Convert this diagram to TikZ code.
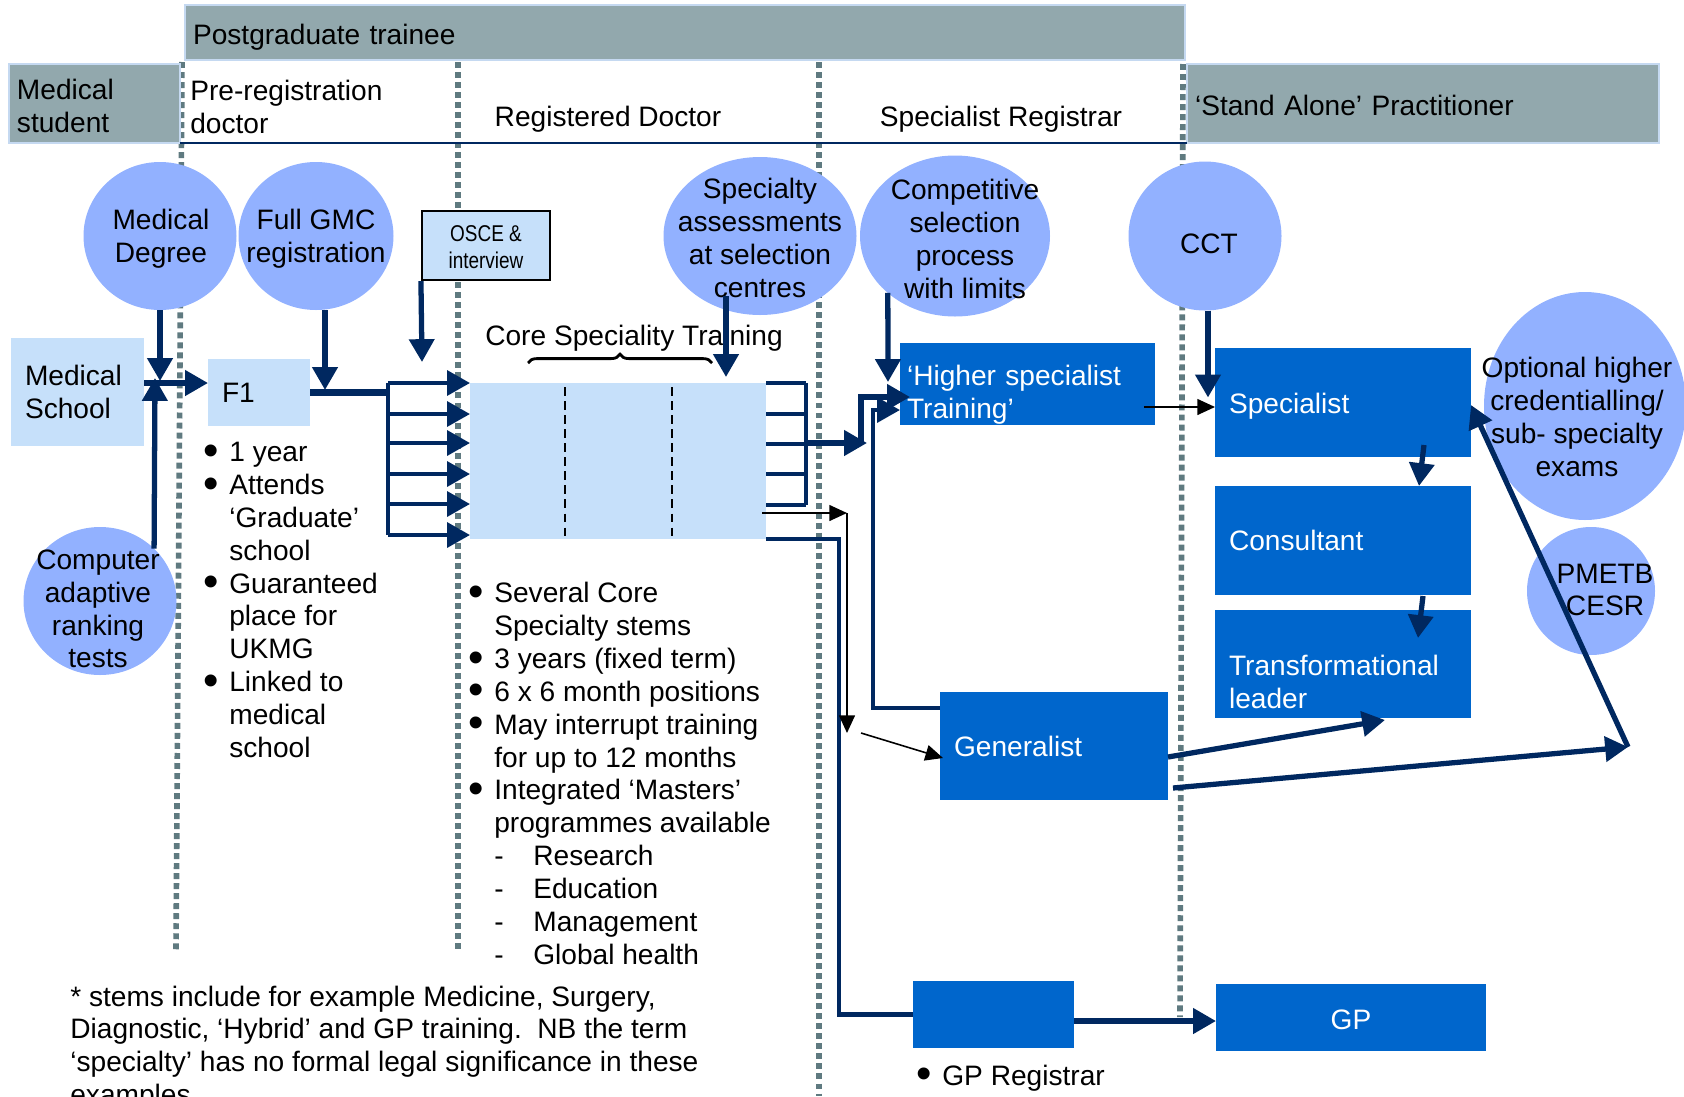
\documentclass[tikz,border=0pt]{standalone}
\usepackage{
	fontspec,			% Fonts
	xcolor				% Colours
}
\usetikzlibrary{arrows.meta,shapes.geometric,decorations.pathreplacing}
\setmainfont{Liberation Sans}
\newfontfamily\narrowfont[FakeStretch=0.83]{Liberation Sans}
\definecolor{barfill}{RGB}{146,168,173}
\definecolor{barline}{RGB}{197,217,241}
\definecolor{sepcol}{RGB}{95,122,128}
\definecolor{bubblecol}{RGB}{146,177,255}
\definecolor{palecol}{RGB}{198,224,250}
\definecolor{boxcol}{RGB}{0,102,204}
\definecolor{arrowblue}{RGB}{0,40,96}
\newcommand{\upx}[1]{\fpeval{(#1)*0.02}cm}
\newcommand{\padtop}[1]{\rule{0pt}{#1}}
\newcommand{\itm}{\makebox[\upx{26}][l]{\raisebox{-2pt}{\fontsize{25}{18}\selectfont\textbullet}}}
\newcommand{\itmind}{\hspace*{\upx{26}}}
\newcommand{\subitm}{\hspace*{\upx{26}}\makebox[\upx{39}][l]{-}}
\tikzset{
	band/.style={draw=barline,line width=1.2pt,fill=barfill,inner ysep=0pt,inner xsep=0.16cm,align=left,anchor=north west,outer sep=0pt},
	bubble/.style={ellipse,fill=bubblecol,inner sep=0pt,outer sep=0pt},
	wh/.style 2 args={minimum width=#1*0.02cm,minimum height=#2*0.02cm},
	palebox/.style={fill=palecol,inner ysep=0pt,inner xsep=0.28cm,align=left,outer sep=0pt},
	bluebox/.style={fill=boxcol,text=white,inner ysep=0pt,inner xsep=0.28cm,align=left,outer sep=0pt},
	sepline/.style={draw=sepcol,line width=3.2pt,dash pattern=on 3.4pt off 2.3pt},
	link/.style={draw=arrowblue,line width=3pt,-{Triangle[length=13pt,width=14pt]}},
	rail/.style={draw=arrowblue,line width=2.4pt},
	fanarrow/.style={rail,-{Triangle[length=13pt,width=14pt]}},
	thinarrow/.style={draw=black,line width=0.9pt,-{Triangle[length=10pt,width=9pt]}}
}
\begin{document}
\begin{tikzpicture}[x=0.02cm,y=-0.02cm,font=\fontsize{16}{18.7}\selectfont]
	\useasboundingbox (0,0) rectangle (1684,1096);
	% stage borders
	\draw[sepline] (182,62) -- (176,950);
	\draw[sepline] (458,62) -- (458,950);
	\draw[sepline] (819,62) -- (819,1096);
	\draw[sepline] (1183,64) -- (1180,1017);

	% header
	\node[band,text width=\upx{984},minimum height=\upx{55}] (pgt) at (185,5) {\padtop{16.5pt}Postgraduate trainee};
	\node[band,text width=\upx{155},minimum height=\upx{79}] (student) at (9,64) {\padtop{14.7pt}Medical\\student};
	\node[band,text width=\upx{456},minimum height=\upx{79}] (alone) at (1187,64) {\padtop{14pt}‘Stand Alone’ Practitioner};
	\node[anchor=west,align=left,inner sep=0pt] (prereg) at (190,107) {Pre-registration\\doctor};
	\node (regdoc) at (608,119) {Registered Doctor};
	\node (specreg) at (1001,119) {Specialist Registrar};
	\draw[arrowblue,line width=1.2pt] (student.south east) -- (alone.south west);

	% checkpoints
	\node[bubble,wh={153}{148}] (degree) at (160,236) {};
	\node[align=center] (degree-t) at (161,239) {Medical\\Degree};
	\node[bubble,wh={155}{148}] (gmc) at (316,236) {};
	\node[align=center] (gmc-t) at (316,239) {Full GMC\\registration};
	\node[bubble,wh={153}{148}] (cat) at (100,601) {};
	\node[align=center] (cat-t) at (98,609) {Computer\\adaptive\\ranking\\tests};
	\node[bubble,wh={193}{158}] (selctr) at (760,236) {};
	\node[align=center] (selctr-t) at (760,238) {Specialty\\assessments\\at selection\\centres};
	\node[bubble,wh={190}{161}] (compsel) at (955,236) {};
	\node[align=center] (compsel-t) at (965,239) {Competitive\\selection\\process\\with limits};
	\node[bubble,wh={153}{149}] (cct) at (1205,236) {};
	\node (cct-t) at (1209,244) {CCT};
	\node[bubble,wh={202}{228}] (optexam) at (1585,406) {};
	\node[align=center] (optexam-t) at (1577,417) {Optional higher\\credentialling/\\sub- specialty\\exams};
	\node[bubble,wh={128}{128}] (pmetb) at (1591,591) {};
	\node[align=center] (pmetb-t) at (1605,590) {PMETB\\CESR};
	\node[draw=black,line width=1.2pt,fill=palecol,wh={128}{69},align=center,font=\narrowfont\fontsize{13}{15.4}\selectfont] (osce) at (486,245.5) {\padtop{11pt}OSCE \&\\interview};

	% posts
	\node[palebox,wh={133}{108},text width=\upx{105}] (medschool) at (77.5,392) {Medical\\School};
	\node[palebox,wh={102}{67},text width=\upx{74}] (f1) at (259,392.5) {F1};
	\node[palebox,wh={296}{156}] (core) at (618,461) {};
	\draw[dash pattern=on 5pt off 3pt,line width=0.9pt] (565,387) -- (565,537);
	\draw[dash pattern=on 5pt off 3pt,line width=0.9pt] (672,387) -- (672,537);
	\node (core-t) at (634,338) {Core Speciality Training};
	\draw[decorate,decoration={brace,amplitude=5pt},line width=1.6pt] (528,363) -- (712,363);
	\node[bluebox,wh={255}{78},text width=\upx{241},inner xsep=0.14cm] (higher) at (1027.5,384) {\padtop{24.2pt}‘Higher specialist\\Training’};
	\node[bluebox,wh={256}{109},text width=\upx{228}] (specialist) at (1343,402.5) {\padtop{16.3pt}Specialist};
	\node[bluebox,wh={256}{109},text width=\upx{228}] (consultant) at (1343,540.5) {Consultant};
	\node[bluebox,wh={256}{108},text width=\upx{228}] (leader) at (1343,664) {\padtop{32.2pt}Transformational\\leader};
	\node[bluebox,wh={228}{108},text width=\upx{200}] (generalist) at (1054,746) {Generalist};
	\node[bluebox,wh={161}{67}] (gpreg) at (993.5,1014.5) {};
	\node[bluebox,wh={270}{67},align=center] (gp) at (1351,1017.5) {\padtop{14pt}GP};

	% notes
	\node[anchor=west,align=left,inner sep=0pt] (f1notes) at (203,600) {\itm 1 year\\\itm Attends\\\itmind ‘Graduate’\\\itmind school\\\itm Guaranteed\\\itmind place for\\\itmind UKMG\\\itm Linked to\\\itmind medical\\\itmind school};
	\node[anchor=west,align=left,inner sep=0pt] (corenotes) at (468,773.5) {\itm Several Core\\\itmind Specialty stems\\\itm 3 years (fixed term)\\\itm 6 x 6 month positions\\\itm May interrupt training\\\itmind for up to 12 months\\\itm Integrated ‘Masters’\\\itmind programmes available\\\subitm Research\\\subitm Education\\\subitm Management\\\subitm Global health};
	\node[anchor=west,inner sep=0pt] (gpnote) at (916,1078) {\itm GP Registrar};
	\node[anchor=west,align=left,inner sep=0pt] (footnote) at (70,1048) {* stems include for example Medicine, Surgery,\\Diagnostic, ‘Hybrid’ and GP training.\ \ NB the term\\‘specialty’ has no formal legal significance in these\\examples};

	% flows
	\draw[link] (degree.south) -- (160,381);
	\draw[link] (cat.north east) -- (155,378);
	\draw[link] (medschool.east |- 0,383) -- (f1.west |- 0,383);
	\draw[link] (gmc.south -| 325,0) -- (325,390);
	\draw[draw=arrowblue,line width=3.6pt] (f1.east) -- (388,392.5);
	\draw[rail] (388,383) -- (388,535);
	\foreach \y in {383,414,443,474,504,535}
		\draw[fanarrow] (388,\y) -- (core.west |- 0,\y);
	\draw[link] (osce.south west) -- (422,362);
	\draw[link] (726,296) -- (726,377);
	\foreach \y in {383,414,444,474,505}
		\draw[rail] (core.east |- 0,\y) -- (806,\y);
	\draw[rail] (806,383) -- (806,505);
	\draw[link] (806,443) -- (867,443);
	\draw[link] (861,443) -- (861,397) -- (910,397);
	\draw[link] (compsel.south west) -- (888,382);
	\draw[rail,-{Triangle[length=13pt,width=14pt]}] (generalist.west |- 0,708) -| (873,410) -- (higher.west |- 0,410);
	\draw[thinarrow] (1144,407) -- (specialist.west |- 0,407);
	\draw[link] ([xshift=0.06cm]cct.south) -- ++(0,87);
	\draw[link] (1424,445) -- (consultant.north -| 1419,0);
	\draw[link] (1423,596) -- (1418,638);
	\coordinate (turn) at (1628,747);
	\draw[link] (generalist.east |- 0,757) -- (1385,720);
	\draw[link] (1173,788) -- (turn);
	\draw[link] (turn) -- (specialist.east |- 0,405);
	\draw[rail] (core.south east) -- (839,539) |- (gpreg.west);
	\draw[link] (gpreg.east |- 0,1021) -- (gp.west |- 0,1021);
	\draw[thinarrow] (762,513) -- (847,513);
	\draw[thinarrow] (847,513) -- (847,733);
	\draw[thinarrow] (861,733) -- (943,758);
\end{tikzpicture}
\end{document}
